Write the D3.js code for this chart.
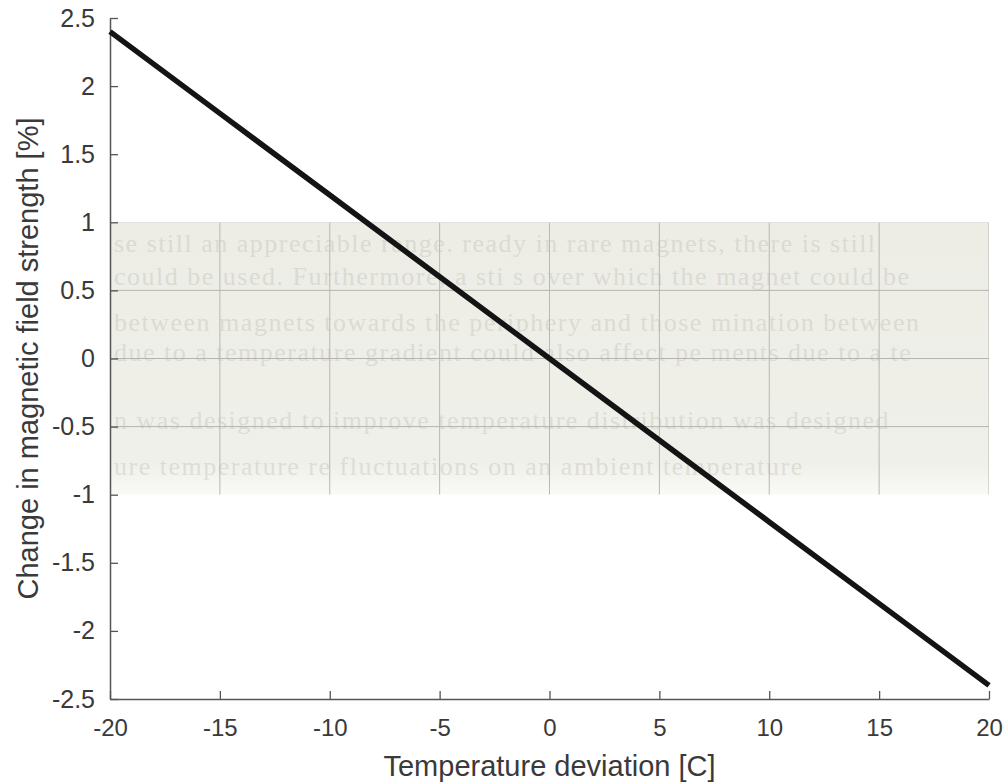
<!DOCTYPE html>
<html>
<head>
<meta charset="utf-8">
<script src="https://cdn.jsdelivr.net/npm/d3@7"></script>
<style>
	body { margin: 0; background: #fff; }
	svg { display: block; }
	text { font-family: "Liberation Sans", Arial, sans-serif; fill: #3a3a3a; }
</style>
</head>
<body>
<svg id="chart" width="1005" height="784"></svg>
<script>
"use strict";

// values
var tempDev = [-20, -15, -10, -5, 0, 5, 10, 15, 20];
var fieldChange = [2.4, 1.8, 1.2, 0.6, 0, -0.6, -1.2, -1.8, -2.4];
var xTicks = [-20, -15, -10, -5, 0, 5, 10, 15, 20];
var yTicks = [2.5, 2, 1.5, 1, 0.5, 0, -0.5, -1, -1.5, -2, -2.5];
// faint scanned band (bleed-through from the page behind)
var bandRange = [-1, 1];
var bandGridY = [1, 0.5, 0, -0.5];
var ghostLines = [
	"se still an appreciable range.  ready in rare magnets, there is still",
	"could be used. Furthermore, a sti  s over which the magnet could be",
	"between magnets towards the periphery and those  mination between",
	"due to a temperature gradient could also affect pe  ments due to a te",
	"n was designed to improve  temperature distribution was designed",
	"            ure temperature  re fluctuations on an ambient temperature"
];
var ghostY = [243, 276, 322, 352, 420, 466];

var svg = d3.select("#chart");
var plotL = 110, plotR = 989, plotT = 18, plotB = 699;

var x = d3.scaleLinear().domain([-20, 20]).range([plotL, plotR]);
var y = d3.scaleLinear().domain([-2.5, 2.5]).range([plotB, plotT]);

// band
var defs = svg.append("defs");
defs.append("clipPath").attr("id", "bandClip")
	.append("rect")
	.attr("x", plotL).attr("y", y(bandRange[1]))
	.attr("width", plotR - plotL).attr("height", y(bandRange[0]) - y(bandRange[1]));
var fade = defs.append("linearGradient").attr("id", "bandFade")
	.attr("x1", 0).attr("x2", 0).attr("y1", 0).attr("y2", 1);
fade.append("stop").attr("offset", "0%").attr("stop-color", "#ededE6");
fade.append("stop").attr("offset", "88%").attr("stop-color", "#f0f0ea");
fade.append("stop").attr("offset", "100%").attr("stop-color", "#f9f9f6");

var band = svg.append("g").attr("clip-path", "url(#bandClip)");
band.append("rect")
	.attr("x", plotL).attr("y", y(bandRange[1]))
	.attr("width", plotR - plotL).attr("height", y(bandRange[0]) - y(bandRange[1]))
	.attr("fill", "url(#bandFade)");

band.selectAll(".ghost").data(ghostLines).enter().append("text")
	.attr("class", "ghost")
	.attr("x", plotL + 4)
	.attr("y", function(d, i){ return ghostY[i] + 9; })
	.style("font-family", "'Liberation Serif', serif")
	.style("font-size", "26px")
	.style("letter-spacing", "1.5px")
	.style("fill", "#b0b0a8")
	.style("opacity", 0.3)
	.text(function(d){ return d; });

band.selectAll(".vgrid").data(xTicks.slice(1)).enter().append("line")
	.attr("x1", function(d){ return x(d); }).attr("x2", function(d){ return x(d); })
	.attr("y1", y(bandRange[1])).attr("y2", y(bandRange[0]))
	.attr("stroke", "#b8b8b0").attr("stroke-width", 1);
band.selectAll(".hgrid").data(bandGridY).enter().append("line")
	.attr("x1", plotL).attr("x2", plotR)
	.attr("y1", function(d){ return y(d); }).attr("y2", function(d){ return y(d); })
	.attr("stroke", function(d){ return d === 1 ? "#d4d4cc" : "#b4b4ac"; })
	.attr("stroke-width", 1);

// axes
var xAxis = d3.axisBottom(x).tickValues(xTicks).tickSizeInner(-8).tickSizeOuter(0).tickPadding(20)
	.tickFormat(function(d){ return String(d); });
var yAxis = d3.axisLeft(y).tickValues(yTicks).tickSizeInner(-8).tickSizeOuter(0).tickPadding(15)
	.tickFormat(function(d){ return String(d); });

var gx = svg.append("g").attr("transform", "translate(0," + plotB + ")").call(xAxis);
var gy = svg.append("g").attr("transform", "translate(" + plotL + ",0)").call(yAxis);
[gx, gy].forEach(function(g){
	g.select(".domain").attr("stroke", "#555").attr("stroke-width", 1.5);
	g.selectAll(".tick line").attr("stroke", "#555").attr("stroke-width", 1.3);
	g.selectAll(".tick text")
		.style("font-family", "'Liberation Sans', Arial, sans-serif")
		.style("font-size", "24px")
		.attr("fill", "#3a3a3a");
});
gy.selectAll(".tick text").style("font-size", "25px");

// line
var line = d3.line()
	.x(function(d, i){ return x(tempDev[i]); })
	.y(function(d){ return y(d); });
svg.append("path")
	.datum(fieldChange)
	.attr("d", line)
	.attr("fill", "none")
	.attr("stroke", "#141414")
	.attr("stroke-width", 5.5);

// titles
svg.append("text")
	.attr("x", (plotL + plotR) / 2).attr("y", 776)
	.attr("text-anchor", "middle")
	.style("font-size", "29px")
	.text("Temperature deviation [C]");
svg.append("text")
	.attr("transform", "translate(38," + (plotT + plotB) / 2 + ") rotate(-90)")
	.attr("text-anchor", "middle")
	.style("font-size", "29px")
	.text("Change in magnetic field strength [%]");
</script>
</body>
</html>
